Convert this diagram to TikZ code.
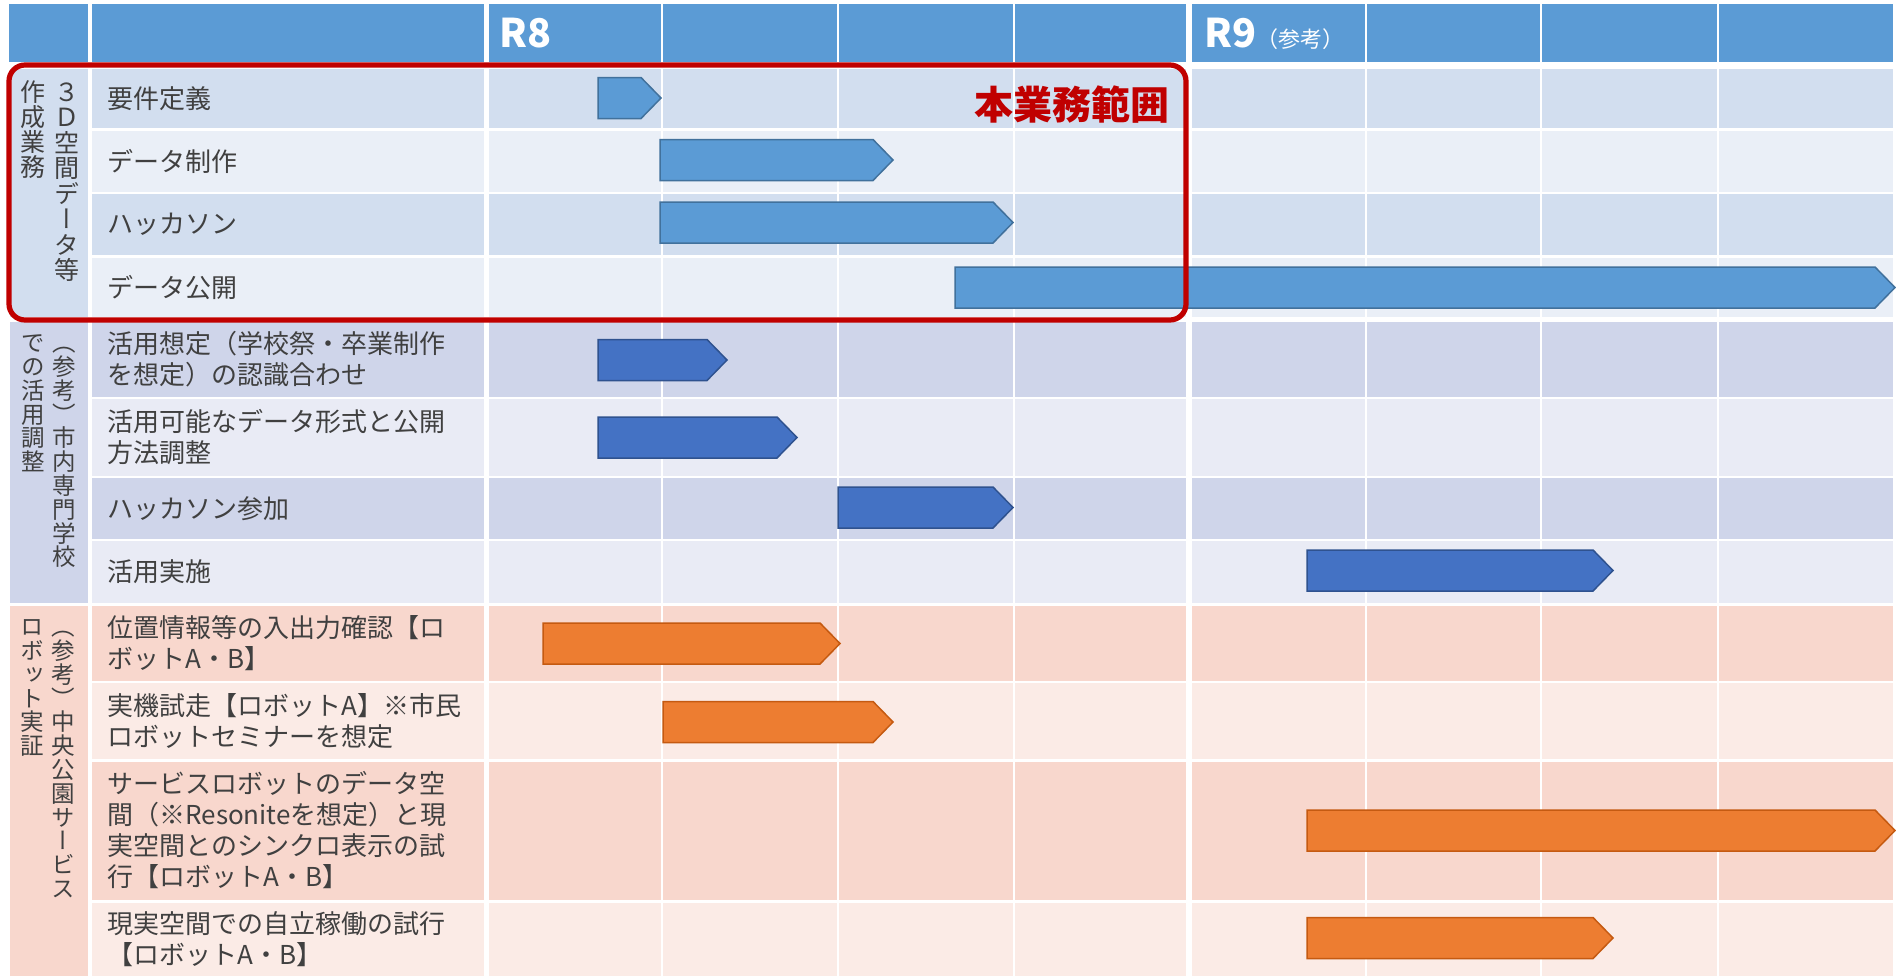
\documentclass[tikz,border=0pt]{standalone}
\usepackage{fontspec}
\setmainfont{Noto Sans CJK JP}
\newfontfamily\vjp[RawFeature={+vert}]{Noto Sans CJK JP}
\definecolor{hdr}{HTML}{5B9BD5}
\definecolor{dA}{HTML}{D2DEEF}
\definecolor{lA}{HTML}{EAEFF7}
\definecolor{dB}{HTML}{CFD5EA}
\definecolor{lB}{HTML}{E9EBF5}
\definecolor{dC}{HTML}{F8D7CD}
\definecolor{lC}{HTML}{FBEBE6}
\definecolor{barA}{HTML}{5B9BD5}
\definecolor{barAl}{HTML}{41719C}
\definecolor{barB}{HTML}{4472C4}
\definecolor{barBl}{HTML}{2F528F}
\definecolor{barC}{HTML}{ED7D31}
\definecolor{barCl}{HTML}{C55A11}
\definecolor{scopered}{HTML}{C00000}
\definecolor{txt}{HTML}{404040}
\newcommand\ganttbar[4]{% style, x0, x1, yc
  \draw[#1] (#2,#4-20.5) -- (#3-20,#4-20.5) -- (#3,#4) -- (#3-20,#4+20.5) -- (#2,#4+20.5) -- cycle;}
\tikzset{
  lbl/.style={anchor=west, align=left, text=txt, inner sep=0pt, font=\fontsize{13pt}{15.5pt}\selectfont},
  vch/.style={anchor=base, inner sep=0pt, text=txt},
  vbig/.style={vch, font=\vjp\fontsize{12.5pt}{12.5pt}\selectfont},
  vsmall/.style={vch, font=\vjp\fontsize{11.75pt}{11.75pt}\selectfont},
  hdrtext/.style={anchor=base west, inner sep=0pt, text=white, font=\bfseries\fontsize{19.75pt}{20pt}\selectfont},
  barstyleA/.style={fill=barA, draw=barAl, line width=0.75pt},
  barstyleB/.style={fill=barB, draw=barBl, line width=0.75pt},
  barstyleC/.style={fill=barC, draw=barCl, line width=0.75pt},
  scopebox/.style={draw=scopered, line width=2.6pt, rounded corners=8pt},
}
\begin{document}
\begin{tikzpicture}[x=0.5pt,y=-0.5pt]
\useasboundingbox (0,0) rectangle (1896,976);
\fill[white] (0,0) rectangle (1896,976);
% header
\foreach \xa/\xb in {9/88,92/484,489/661,663/837,839/1013,1015/1186,1192/1365,1367/1540,1542/1717,1719/1893}
  \fill[hdr] (\xa,4) rectangle (\xb,62);
% body cells
\foreach \ya/\yb/\cc in {69/128/dA,131/192/lA,194/255/dA,258/317/lA,322/397/dB,399/476/lB,478/539/dB,541/603/lB,606/681/dC,683/759/lC,762/900/dC,903/976/lC}{
  \foreach \xa/\xb in {92/484,489/661,663/837,839/1013,1015/1186,1192/1365,1367/1540,1542/1717,1719/1893}
    \fill[fill=\cc] (\xa,\ya) rectangle (\xb,\yb);
}
% category column
\fill[dA] (10,69) rectangle (88,317);
\fill[dB] (10,322) rectangle (88,603);
\fill[dC] (10,606) rectangle (88,976);
% header texts
\node[hdrtext] (hr8) at (499,47) {R8};
\node[hdrtext] (hr9) at (1204,47) {R9{\mdseries\fontsize{11pt}{12pt}\selectfont （参考）}};
% vertical category labels
\foreach \c [count=\i from 0] in {３,Ｄ,空,間,デ,ー,タ,等}
  \node[vbig] (sa\i) at (67,101+25.5*\i) {\c};
\foreach \c [count=\i from 0] in {作,成,業,務}
  \node[vbig] (sb\i) at (33,101+25.2*\i) {\c};
\foreach \c [count=\i from 0] in {（,参,考,）,市,内,専,門,学,校}
  \node[vsmall] (sc\i) at (64,351.7+23.8*\i) {\c};
\foreach \c [count=\i from 0] in {で,の,活,用,調,整}
  \node[vsmall] (sd\i) at (33,351.7+23.8*\i) {\c};
\foreach \c [count=\i from 0] in {（,参,考,）,中,央,公,園,サ,ー,ビ,ス}
  \node[vsmall] (se\i) at (63,635.7+23.8*\i) {\c};
\foreach \c [count=\i from 0] in {ロ,ボ,ッ,ト,実,証}
  \node[vsmall] (sf\i) at (32,635.7+23.8*\i) {\c};
% row labels
\node[lbl] (l1) at (107,98.5) {要件定義};
\node[lbl] (l2) at (107,161.5) {データ制作};
\node[lbl] (l3) at (107,224.5) {ハッカソン};
\node[lbl] (l4) at (107,287.5) {データ公開};
\node[lbl] (l5) at (107,359.5) {活用想定（学校祭・卒業制作\\を想定）の認識合わせ};
\node[lbl] (l6) at (107,437.5) {活用可能なデータ形式と公開\\方法調整};
\node[lbl] (l7) at (107,508.5) {ハッカソン参加};
\node[lbl] (l8) at (107,572) {活用実施};
\node[lbl] (l9) at (107,643.5) {位置情報等の入出力確認【ロ\\ボットA・B】};
\node[lbl] (l10) at (107,721) {実機試走【ロボットA】※市民\\ロボットセミナーを想定};
\node[lbl] (l11) at (107,830) {サービスロボットのデータ空\\間（※Resoniteを想定）と現\\実空間とのシンクロ表示の試\\行【ロボットA・B】};
\node[lbl] (l12) at (107,939) {現実空間での自立稼働の試行\\【ロボットA・B】};
% gantt bars
\ganttbar{barstyleA}{598}{661}{98}
\ganttbar{barstyleA}{660}{893}{160}
\ganttbar{barstyleA}{660}{1013}{222.5}
\ganttbar{barstyleA}{955}{1895}{287.5}
\ganttbar{barstyleB}{598}{727}{360}
\ganttbar{barstyleB}{598}{797}{437.5}
\ganttbar{barstyleB}{838}{1013}{507.5}
\ganttbar{barstyleB}{1307}{1613}{570.5}
\ganttbar{barstyleC}{543}{840}{643.5}
\ganttbar{barstyleC}{663}{893}{722}
\ganttbar{barstyleC}{1307}{1895}{830.5}
\ganttbar{barstyleC}{1307}{1613}{938}
% scope frame
\draw[scopebox] (9,65) rectangle (1186,320);
\node[inner sep=0pt, text=scopered, font=\bfseries\fontsize{19.5pt}{20pt}\selectfont] (scopelabel) at (1072,105) {本業務範囲};
\end{tikzpicture}
\end{document}
